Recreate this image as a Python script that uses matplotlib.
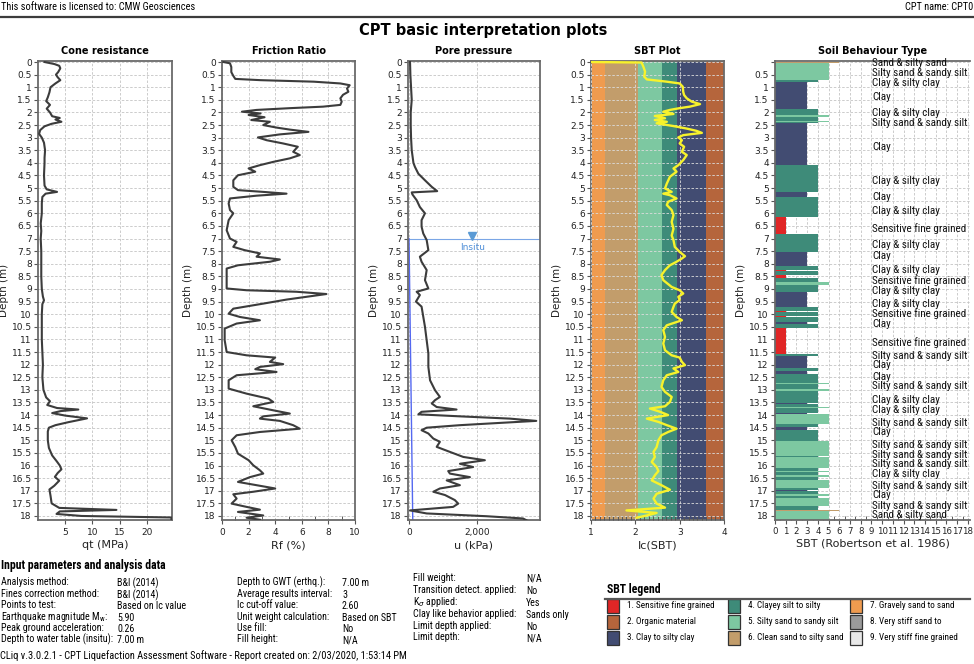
import numpy as np
import matplotlib
matplotlib.use('Agg')
import matplotlib.pyplot as plt
from matplotlib import font_manager
from matplotlib.font_manager import FontProperties
from matplotlib.patches import Rectangle
from matplotlib.lines import Line2D
from matplotlib.ticker import FuncFormatter, MultipleLocator

# ---------------- data ----------------
qt_depth = [0.00, 0.08, 0.15, 0.25, 0.40, 0.50, 0.60, 0.72, 0.85, 1.00, 1.20, 1.40, 1.55, 1.70, 1.85,
            2.00, 2.15, 2.22, 2.28, 2.37, 2.45, 2.55, 2.70, 2.85, 3.00, 3.20, 3.50, 3.80, 4.00, 4.50,
            4.90, 5.05, 5.15, 5.22, 5.35, 5.60, 6.00, 6.40, 6.70, 7.00, 7.50, 8.00, 8.50, 9.00, 9.30,
            9.45, 9.60, 10.00, 10.50, 11.00, 11.50, 12.00, 12.50, 13.00, 13.30, 13.45, 13.60, 13.72,
            13.78, 13.84, 13.92, 14.02, 14.13, 14.28, 14.40, 14.50, 14.65, 15.00, 15.30, 15.60, 15.85,
            16.00, 16.15, 16.30, 16.45, 16.60, 16.80, 16.95, 17.20, 17.50, 17.68, 17.76, 17.82, 17.92,
            18.00, 18.06, 18.15]
qt_mpa = [1.2, 3.0, 3.9, 4.1, 3.7, 3.3, 3.6, 4.1, 3.2, 2.3, 2.1, 1.8, 1.5, 2.2, 1.6,
          2.2, 2.6, 4.0, 3.2, 4.3, 2.5, 1.2, 0.4, 0.2, 0.7, 1.1, 1.3, 1.2, 1.2, 1.1,
          1.2, 1.6, 3.5, 1.4, 0.8, 0.7, 0.7, 0.5, 0.6, 0.5, 0.6, 0.6, 0.6, 0.7, 0.9,
          1.1, 0.8, 0.7, 0.7, 0.7, 0.8, 0.9, 0.8, 1.0, 1.5, 2.2, 1.7, 3.5,
          7.4, 4.2, 2.6, 5.0, 9.0, 5.6, 3.2, 2.0, 1.8, 1.8, 2.0, 2.6, 3.5,
          4.0, 4.3, 3.6, 3.1, 3.9, 3.0, 2.1, 2.3, 2.5, 3.9, 14.4, 4.0, 3.4,
          8.0, 24.5, 24.5]

rf_depth = [0.00, 0.05, 0.20, 0.40, 0.55, 0.67, 0.72, 0.78, 0.85, 0.92, 1.05, 1.18, 1.30, 1.44, 1.57,
            1.70, 1.77, 1.83, 1.90, 1.97, 2.04, 2.10, 2.19, 2.30, 2.37, 2.50, 2.60, 2.68, 2.77, 2.87,
            2.99, 3.10, 3.23, 3.36, 3.56, 3.69, 3.82, 3.96, 4.09, 4.22, 4.35, 4.49, 4.69, 4.95, 5.08,
            5.15, 5.22, 5.30, 5.41, 5.61, 5.87, 6.00, 6.27, 6.67, 7.00, 7.13, 7.33, 7.46, 7.59, 7.72,
            7.83, 7.92, 8.06, 8.19, 8.65, 8.98, 9.05, 9.11, 9.20, 9.31, 9.42, 9.58, 9.78, 9.98, 10.11,
            10.24, 10.37, 10.57, 11.03, 11.50, 11.63, 11.72, 11.89, 11.98, 12.09, 12.18, 12.29, 12.42,
            12.62, 12.95, 13.15, 13.35, 13.48, 13.65, 13.81, 13.94, 14.05, 14.14, 14.23, 14.40, 14.54,
            14.67, 14.80, 15.00, 15.27, 15.53, 15.79, 15.99, 16.19, 16.32, 16.46, 16.65, 16.78, 16.91,
            17.04, 17.14, 17.31, 17.51, 17.64, 17.75, 17.84, 17.98, 18.07, 18.15]
rf_pct = [0.1, 0.6, 0.7, 0.7, 0.85, 1.0, 2.9, 6.9, 8.9, 9.6, 9.4, 9.5, 9.1, 8.9, 9.0,
          8.9, 7.6, 5.1, 2.6, 1.5, 2.9, 2.0, 3.2, 2.2, 3.6, 3.1, 4.1, 5.1, 6.5, 4.35,
          2.7, 3.35, 4.6, 5.7, 5.35, 5.85, 5.1, 3.85, 2.85, 2.0, 2.5, 1.2, 0.85, 0.85, 1.2,
          3.1, 4.85, 2.6, 0.6, 0.5, 0.6, 0.85, 0.5, 0.35, 0.6, 1.1, 0.85, 1.7, 2.85, 2.6,
          4.35, 3.6, 1.2, 0.35, 0.35, 0.35, 1.85, 5.6, 7.85, 6.35, 4.85, 3.1, 0.85, 0.5, 1.35,
          2.85, 1.1, 0.2, 0.2, 0.35, 1.85, 4.0, 3.6, 4.6, 2.85, 2.5, 4.1, 1.1,
          0.5, 0.5, 1.85, 3.5, 3.85, 2.35, 3.85, 5.1, 3.1, 2.85, 4.35, 5.35, 5.85,
          2.85, 1.1, 0.72, 1.0, 1.2, 2.0, 2.35, 2.85, 3.1, 2.1, 1.2, 2.6, 4.0,
          2.35, 0.85, 1.1, 0.72, 1.85, 2.85, 1.2, 3.1, 1.85, 2.85]

u_depth = [0.00, 0.50, 1.00, 1.50, 2.00, 2.50, 3.00, 3.50, 4.00, 4.16, 4.43, 4.69, 4.95, 5.12, 5.17,
           5.25, 5.48, 5.75, 6.00, 6.27, 6.53, 6.80, 7.06, 7.46, 7.72, 7.92, 8.25, 8.65, 8.98, 9.11,
           9.24, 9.50, 9.70, 10.10, 10.50, 11.03, 11.56, 12.09, 12.62, 13.01, 13.28, 13.41, 13.54,
           13.68, 13.78, 13.87, 13.97, 14.05, 14.14, 14.23, 14.31, 14.40, 14.50, 14.60, 14.73, 14.93,
           15.06, 15.26, 15.46, 15.66, 15.79, 15.93, 16.06, 16.22, 16.32, 16.46, 16.59, 16.78, 16.91,
           17.04, 17.17, 17.37, 17.51, 17.64, 17.78, 17.90, 18.01, 18.10, 18.17]
u_kpa = [30, 40, 60, 80, 50, 50, 60, 80, 130, 175, 275, 470, 670, 830, 80,
         100, 225, 320, 470, 370, 370, 420, 520, 570, 320, 370, 520, 470, 570, 225,
         320, 205, 370, 420, 470, 520, 570, 570, 620, 765, 910, 765, 670,
         815, 1400, 370, 275, 1500, 2970, 3750, 2680, 1500, 520, 370, 570, 715,
         910, 815, 1205, 1600, 2235, 1500, 1890, 1155, 1205, 1795, 1110, 1500, 910,
         715, 1060, 1350, 1450, 1300, 30, 520, 2280, 3360, 3460]

ic_depth = [0.00, 0.02, 0.18, 0.38, 0.58, 0.69, 0.78, 0.85, 0.98, 1.18, 1.31, 1.44, 1.57, 1.67, 1.77,
            1.83, 1.90, 1.97, 2.06, 2.14, 2.23, 2.30, 2.37, 2.43, 2.54, 2.64, 2.73, 2.81, 2.90, 2.99,
            3.10, 3.23, 3.36, 3.56, 3.69, 3.89, 4.09, 4.22, 4.35, 4.55, 4.82, 5.01, 5.15, 5.22, 5.28,
            5.41, 5.54, 5.67, 5.87, 6.07, 6.34, 6.61, 6.88, 7.06, 7.33, 7.53, 7.70, 7.79, 7.92, 8.06,
            8.25, 8.45, 8.65, 8.92, 9.05, 9.18, 9.31, 9.44, 9.58, 9.71, 9.91, 10.11, 10.24, 10.44,
            10.63, 10.90, 11.16, 11.43, 11.63, 11.72, 11.89, 12.02, 12.15, 12.29, 12.42, 12.62, 12.88,
            13.08, 13.28, 13.48, 13.65, 13.74, 13.87, 14.00, 14.14, 14.27, 14.40, 14.54, 14.67, 14.80,
            15.00, 15.27, 15.46, 15.66, 15.86, 16.06, 16.22, 16.39, 16.59, 16.78, 16.96, 17.12, 17.31,
            17.51, 17.67, 17.78, 17.88, 17.98, 18.07]
ic_sbt = [1.00, 2.14, 2.18, 2.22, 2.20, 2.26, 2.71, 3.00, 3.07, 3.08, 3.10, 3.16, 3.27, 3.46, 3.23,
          3.00, 2.78, 2.63, 2.86, 2.44, 2.67, 2.44, 2.71, 2.48, 2.86, 3.16, 3.38, 3.50, 3.08, 2.97,
          3.05, 3.00, 3.10, 3.05, 3.16, 3.08, 2.97, 2.86, 2.93, 2.78, 2.71, 2.67, 2.82, 2.63, 2.78,
          2.93, 2.74, 2.71, 2.82, 2.86, 2.82, 2.86, 2.82, 2.86, 2.89, 3.00, 3.12, 3.05, 2.93, 2.78,
          2.67, 2.59, 2.63, 2.82, 3.00, 3.08, 2.97, 3.00, 2.89, 2.86, 2.82, 2.93, 3.05, 2.71,
          2.63, 2.67, 2.63, 2.67, 2.82, 3.00, 3.05, 3.12, 2.86, 2.97, 2.71, 2.63, 2.59,
          2.67, 2.82, 2.78, 2.67, 2.33, 2.56, 2.74, 2.26, 2.52, 2.71, 2.93, 2.74, 2.59,
          2.52, 2.48, 2.41, 2.44, 2.37, 2.48, 2.52, 2.44, 2.37, 2.59, 2.78, 2.48, 2.41,
          2.48, 2.67, 1.80, 2.48, 2.26, 2.03]

ic_bounds = [1.0, 1.31, 2.05, 2.6, 2.95, 3.6, 4.0]
ic_band_zone = [7, 6, 5, 4, 3, 2]

# SBT layers: boundaries (top of each layer, last = base) and zone number
sbt_depth = [0.00, 0.05, 0.72, 0.78, 1.88, 2.12, 2.17, 2.33, 2.37, 2.43, 4.09, 5.16, 5.36, 6.14, 6.80,
             7.53, 8.10, 8.24, 8.30, 8.46, 8.58, 8.74, 8.84, 9.12, 9.72, 9.86, 9.90, 10.06, 10.10,
             10.30, 10.40, 10.55, 11.56, 11.66, 12.15, 12.24, 12.36, 12.72, 12.78, 12.98, 13.04,
             13.52, 13.58, 13.68, 13.72, 13.92, 13.97, 14.37, 14.46, 14.60, 15.04, 15.62, 15.68,
             16.10, 16.20, 16.26, 16.38, 16.44, 16.58, 16.88, 16.98, 17.02, 17.12, 17.20, 17.30,
             17.60, 17.76, 17.82, 18.15]
sbt_zone = [6, 5, 4, 3, 4, 5, 4, 5, 4, 3, 4, 3, 4, 1, 4,
            3, 4, 1, 4, 1, 4, 5, 4, 3, 4, 1, 4, 1,
            4, 3, 4, 1, 4, 3, 4, 3, 4, 5, 4, 5,
            4, 3, 4, 5, 4, 3, 5, 4, 3, 4, 5, 4,
            5, 4, 5, 4, 5, 4, 5, 4, 3, 4, 5, 4,
            5, 4, 6, 5]

sbt_label_depth = [0.05, 0.42, 0.85, 1.40, 2.04, 2.43, 3.36, 4.71, 5.37, 5.91, 6.60, 7.26, 7.70,
                   8.23, 8.65, 9.06, 9.61, 9.99, 10.40, 11.13, 11.67, 12.00, 12.49, 12.86, 13.41,
                   13.81, 14.31, 14.67, 15.17, 15.57, 15.95, 16.33, 16.81, 17.18, 17.61, 17.98]
sbt_label_text = ['Sand & silty sand', 'Silty sand & sandy silt', 'Clay & silty clay', 'Clay',
                  'Clay & silty clay', 'Silty sand & sandy silt', 'Clay', 'Clay & silty clay', 'Clay',
                  'Clay & silty clay', 'Sensitive fine grained', 'Clay & silty clay', 'Clay',
                  'Clay & silty clay', 'Sensitive fine grained', 'Clay & silty clay', 'Clay & silty clay',
                  'Sensitive fine grained', 'Clay', 'Sensitive fine grained', 'Silty sand & sandy silt',
                  'Clay', 'Clay', 'Silty sand & sandy silt', 'Clay & silty clay', 'Clay & silty clay',
                  'Silty sand & sandy silt', 'Clay', 'Silty sand & sandy silt', 'Silty sand & sandy silt',
                  'Silty sand & sandy silt', 'Clay & silty clay', 'Silty sand & sandy silt', 'Clay',
                  'Silty sand & sandy silt', 'Sand & silty sand']

gwt_depth = 7.0
hydro_depth = [7.0, 18.15]
hydro_u = [0, 110]

zone_colors = {1: '#e02626', 2: '#b5653c', 3: '#424c72', 4: '#3e8b79', 5: '#7dc8a1',
               6: '#c29d6b', 7: '#ef9b4f', 8: '#9a9a9a', 9: '#e8e8e8'}
legend_labels = ['1. Sensitive fine grained', '2. Organic material', '3. Clay to silty clay',
                 '4. Clayey silt to silty', '5. Silty sand to sandy silt', '6. Clean sand to silty sand',
                 '7. Gravely sand to sand', '8. Very stiff sand to', '9. Very stiff fine grained']

par1_lab = ['Analysis method:', 'Fines correction method:', 'Points to test:',
            'Earthquake magnitude M$_\\mathregular{w}$:', 'Peak ground acceleration:',
            'Depth to water table (insitu):']
par1_val = ['B&I (2014)', 'B&I (2014)', 'Based on Ic value', '5.90', '0.26', '7.00 m']
par2_lab = ['Depth to GWT (erthq.):', 'Average results interval:', 'Ic cut-off value:',
            'Unit weight calculation:', 'Use fill:', 'Fill height:']
par2_val = ['7.00 m', '3', '2.60', 'Based on SBT', 'No', 'N/A']
par3_lab = ['Fill weight:', 'Transition detect. applied:', 'K$_\\sigma$ applied:',
            'Clay like behavior applied:', 'Limit depth applied:', 'Limit depth:']
par3_val = ['N/A', 'No', 'Yes', 'Sands only', 'No', 'N/A']

# ---------------- fonts ----------------
plt.rcParams['font.family'] = 'DejaVu Sans'
plt.rcParams['mathtext.fontset'] = 'dejavusans'


def pick_narrow(bold):
    pref = ['Liberation Sans Narrow', 'Roboto Condensed', 'Open Sans Condensed', 'DejaVu Sans',
            'Noto Sans', 'Open Sans', 'Roboto', 'Liberation Sans']
    best = None
    for f in font_manager.fontManager.ttflist:
        st = str(f.stretch)
        narrow = ('Narrow' in f.name or 'Condensed' in f.name or st in ('condensed', 'semi-condensed'))
        if not narrow or f.style != 'normal' or 'Mono' in f.name or 'Serif' in f.name:
            continue
        if 'extra' in st or 'ultra' in st or 'Extra' in f.name or 'Ultra' in f.name:
            continue
        w = f.weight if isinstance(f.weight, int) else {'normal': 400, 'regular': 400, 'book': 400,
                                                         'bold': 700}.get(str(f.weight), 500)
        if (bold and w != 700) or (not bold and w != 400):
            continue
        rank = next((i for i, p in enumerate(pref) if f.name.startswith(p)), 99)
        if best is None or rank < best[0]:
            best = (rank, f.fname)
    if best:
        return FontProperties(fname=best[1])
    return FontProperties(family='DejaVu Sans', weight='bold' if bold else 'normal')


NARROW = pick_narrow(False)
NARROW_B = pick_narrow(True)

W, H = 974, 664
fig = plt.figure(figsize=(W / 100, H / 100), dpi=100)


def ftext(px, py, s, bold=False, **kw):
    kw.setdefault('va', 'center')
    return fig.text(px / W, 1 - py / H, s, fontproperties=NARROW_B if bold else NARROW, **kw)


def fline(x0, x1, py, **kw):
    fig.add_artist(Line2D([x0 / W, x1 / W], [1 - py / H, 1 - py / H], transform=fig.transFigure, **kw))


def fit(texts, max_w):
    r = fig.canvas.get_renderer()
    w = max(t.get_window_extent(r).width for t in texts)
    if w > max_w:
        s = texts[0].get_fontsize() * max_w / w
        for t in texts:
            t.set_fontsize(s)


TOP, BOT = 61, 520
panels = [(38, 172), (222, 355), (408, 540), (591, 724), (775, 970)]
axes = []
for l, r in panels:
    axes.append(fig.add_axes([l / W, 1 - BOT / H, (r - l) / W, (BOT - TOP) / H]))

titles = ['Cone resistance', 'Friction Ratio', 'Pore pressure', 'SBT Plot', 'Soil Behaviour Type']
xlabels = ['qt (MPa)', 'Rf (%)', 'u (kPa)', 'Ic(SBT)', 'SBT (Robertson et al. 1986)']
xlims = [(0, 24.6), (0, 10), (-30, 3860), (1, 4), (0, 18.2)]
xticks = [[5, 10, 15, 20], [0, 2, 4, 6, 8, 10], [0, 2000], [1, 2, 3, 4], list(range(0, 19))]

for i, ax in enumerate(axes):
    ax.set_ylim(18.16, -0.04)
    ax.set_xlim(*xlims[i])
    ax.set_xticks(xticks[i])
    ax.yaxis.set_major_locator(MultipleLocator(0.5))
    ax.yaxis.set_major_formatter(FuncFormatter(lambda v, p: '' if v < -0.01 or v > 18.01 else f'{v:g}'))
    ax.grid(True, ls=(0, (3, 2)), color='#c4c4c4', lw=0.6)
    ax.set_axisbelow(True)
    ax.tick_params(axis='both', labelsize=6.5, colors='#555555', labelcolor='#222222',
                   length=3, width=0.8, pad=1.5)
    ax.tick_params(axis='x', pad=3)
    for sp in ax.spines.values():
        sp.set_color('#6a6a6a')
        sp.set_linewidth(1.3)
    ax.set_title(titles[i], fontsize=7, fontweight='bold', pad=5)
    ax.set_xlabel(xlabels[i], fontsize=8, labelpad=2, color='#222222')
    ax.set_ylabel('Depth (m)', fontsize=7.5, labelpad=2, color='#222222')

axes[2].xaxis.set_major_formatter(FuncFormatter(lambda v, p: f'{v:,.0f}'))
axes[1].xaxis.set_minor_locator(MultipleLocator(1))
axes[3].xaxis.set_minor_locator(MultipleLocator(0.1))
axes[4].xaxis.set_minor_locator(MultipleLocator(0.5))
axes[4].tick_params(axis='x', labelsize=6.2, pad=2)
for ax in axes[1:]:
    ax.tick_params(axis='x', which='minor', direction='in', length=3, width=0.7, colors='#555555')

line_kw = dict(color='#3c3c3c', lw=1.5, zorder=3)
axes[0].plot(qt_mpa, qt_depth, **line_kw)
axes[1].plot(rf_pct, rf_depth, **line_kw)
axes[2].plot(u_kpa, u_depth, **line_kw)

# water table
axes[2].axhline(gwt_depth, color='#7aa6e6', lw=0.8, zorder=2)
axes[2].plot(hydro_u, hydro_depth, color='#5468f0', lw=1.0, zorder=2)
axes[2].plot([1870], [gwt_depth - 0.12], marker='v', color='#5b9bd5', ms=6, zorder=4)
axes[2].text(1870, gwt_depth + 0.35, 'Insitu', color='#4f8fd8', fontsize=6.5, ha='center', va='center')

# SBT plot background bands
ax4 = axes[3]
for k, zone in enumerate(ic_band_zone):
    ax4.axvspan(ic_bounds[k], ic_bounds[k + 1], color=zone_colors[zone], lw=0, zorder=0)
ax4.set_axisbelow(False)
ax4.grid(True, ls=(0, (3, 2)), color='#dcdcdc', lw=0.6)
ax4.plot(ic_sbt, ic_depth, color='#f7f22c', lw=1.7, zorder=3)

# Soil behaviour type bars
ax5 = axes[4]
tops = np.array(sbt_depth[:-1])
bases = np.array(sbt_depth[1:])
ax5.barh((tops + bases) / 2, sbt_zone, height=bases - tops, left=0,
         color=[zone_colors[z] for z in sbt_zone], lw=0, zorder=2)
ax5.spines['right'].set_visible(False)
ax5.yaxis.set_major_formatter(FuncFormatter(lambda v, p: '' if v < 0.25 or v > 18.01 else f'{v:g}'))
sbt_texts = [ax5.text(9.1, d, s, fontproperties=NARROW, fontsize=9, ha='left', va='center',
                      color='#111111', zorder=5) for d, s in zip(sbt_label_depth, sbt_label_text)]
fit(sbt_texts, 96)

# ---------------- header ----------------
t = ftext(1, 7, 'This software is licensed to: CMW Geosciences', fontsize=7.5, ha='left')
fit([t], 199)
t = ftext(973, 7, 'CPT name: CPT0', fontsize=7.5, ha='right')
fit([t], 68)
fline(0, W, 17, color='#3c3c3c', lw=1.6)
fig.text(483 / W, 1 - 30 / H, 'CPT basic interpretation plots', fontsize=10.5, fontweight='bold',
         ha='center', va='center')

# ---------------- input parameters ----------------
t = ftext(1, 566, 'Input parameters and analysis data', bold=True, fontsize=8.5, ha='left')
fit([t], 175)
rows = [582, 594, 605, 617, 628, 639]
rows3 = [578, 590, 602, 614, 626, 637]
cols = [(1, 117, rows, par1_lab, par1_val, 112), (237, 342, rows, par2_lab, par2_val, 100),
        (413, 526, rows3, par3_lab, par3_val, 104)]
lab_texts, val_texts = [], []
for lx, vx, ry, labs, vals, wmax in cols:
    grp = [ftext(lx, ry[k], labs[k], fontsize=7.2, ha='left') for k in range(6)]
    fit(grp, wmax)
    lab_texts += grp
    val_texts += [ftext(vx, ry[k] + 1, vals[k], fontsize=7.2, ha='left') for k in range(6)]
size_tab = min(t.get_fontsize() for t in lab_texts)
for t in lab_texts + val_texts:
    t.set_fontsize(size_tab)

# ---------------- SBT legend ----------------
t = ftext(607, 590, 'SBT legend', bold=True, fontsize=8.5, ha='left')
fit([t], 56)
fline(605, 970, 599, color='#555555', lw=1.6)
leg_x = [607, 728, 850]
leg_y = [606, 622, 638]
leg_texts = []
for k, lab in enumerate(legend_labels):
    cx, cy = leg_x[k // 3], leg_y[k % 3]
    fig.add_artist(Rectangle((cx / W, 1 - (cy + 7) / H), 12 / W, 14 / H, transform=fig.transFigure,
                             facecolor=zone_colors[k + 1], edgecolor='#333333', lw=0.9))
    leg_texts.append(ftext(cx + 20, cy, lab, fontsize=7.2, ha='left'))
fit(leg_texts, 95)

# ---------------- footer ----------------
t = ftext(0, 656, 'CLiq v.3.0.2.1 - CPT Liquefaction Assessment Software - Report created on: '
          '2/03/2020, 1:53:14 PM', fontsize=7.5, ha='left')
fit([t], 446)

fig.savefig('out.png', dpi=100)
